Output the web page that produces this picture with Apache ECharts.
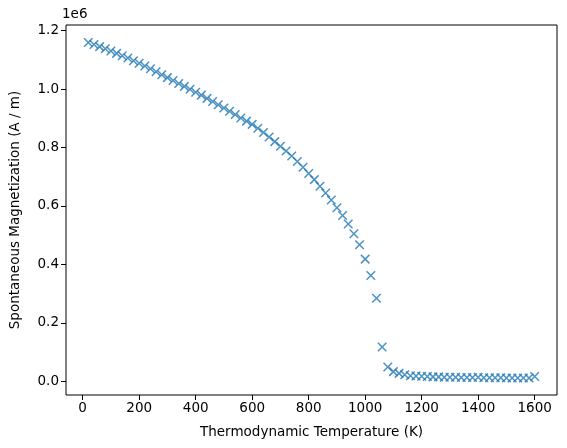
<!DOCTYPE html>
<html>
<head>
<meta charset="utf-8">
<script src="https://cdn.jsdelivr.net/npm/echarts@6/dist/echarts.min.js"></script>
<style>
  html, body { margin: 0; padding: 0; background: #fff; }
  #chart { width: 567px; height: 448px; }
</style>
</head>
<body>
<div id="chart"></div>
<script>
// temperature (K) and spontaneous magnetization (A/m)
var temperature = [
  20, 40, 60, 80, 100, 120, 140, 160, 180, 200,
  220, 240, 260, 280, 300, 320, 340, 360, 380, 400,
  420, 440, 460, 480, 500, 520, 540, 560, 580, 600,
  620, 640, 660, 680, 700, 720, 740, 760, 780, 800,
  820, 840, 860, 880, 900, 920, 940, 960, 980, 1000,
  1020, 1040, 1060, 1080, 1100, 1120, 1140, 1160, 1180, 1200,
  1220, 1240, 1260, 1280, 1300, 1320, 1340, 1360, 1380, 1400,
  1420, 1440, 1460, 1480, 1500, 1520, 1540, 1560, 1580, 1600
];
var magnetization = [
  1159000, 1152000, 1145000, 1138000, 1130000, 1122000, 1114000, 1106000, 1097000, 1088000,
  1079000, 1069000, 1059000, 1049000, 1039000, 1029000, 1019000, 1009000, 999000, 989000,
  979000, 968000, 957000, 946000, 935000, 924000, 913000, 901000, 890000, 879000,
  866000, 851000, 836000, 820000, 804000, 788000, 771000, 752000, 732000, 711000,
  690000, 667000, 644000, 620000, 594000, 567000, 538000, 505000, 467000, 418000,
  362000, 284000, 117000, 49000, 33000, 27000, 22000, 19000, 18000, 17000,
  16000, 15000, 15000, 14000, 14000, 14000, 13000, 13000, 13000, 14000,
  12000, 12000, 12000, 12000, 11000, 11000, 11000, 11000, 11000, 16000
];
var xTicks = [0, 200, 400, 600, 800, 1000, 1200, 1400, 1600];
var yTicks = [0, 200000, 400000, 600000, 800000, 1000000, 1200000];

var points = temperature.map(function (t, i) { return [t, magnetization[i]]; });

var chart = echarts.init(document.getElementById('chart'));
var font = 'DejaVu Sans';
chart.setOption({
  animation: false,
  backgroundColor: '#fff',
  textStyle: { fontFamily: font },
  grid: { left: 61, top: 25, right: 10, bottom: 53, show: true, borderColor: '#000', borderWidth: 1, backgroundColor: 'transparent' },
  xAxis: {
    type: 'value', min: -59, max: 1679,
    name: 'Thermodynamic Temperature (K)', nameLocation: 'middle', nameGap: 30,
    nameTextStyle: { color: '#000', fontSize: 13.5, fontFamily: font },
    axisLine: { show: false, onZero: false },
    splitLine: { show: false },
    axisTick: { show: true, inside: false, length: 5, customValues: xTicks, lineStyle: { color: '#000', width: 1 } },
    axisLabel: {
      customValues: xTicks, color: '#000', fontSize: 13.5, fontFamily: font, margin: 6,
      formatter: function (v) { return String(v); }
    }
  },
  yAxis: {
    type: 'value', min: -47000, max: 1219000,
    name: 'Spontaneous Magnetization (A / m)', nameLocation: 'middle', nameGap: 44,
    nameTextStyle: { color: '#000', fontSize: 13.5, fontFamily: font },
    axisLine: { show: false, onZero: false },
    splitLine: { show: false },
    axisTick: { show: true, inside: false, length: 5, customValues: yTicks, lineStyle: { color: '#000', width: 1 } },
    axisLabel: {
      customValues: yTicks, color: '#000', fontSize: 13.5, fontFamily: font, margin: 7,
      formatter: function (v) { return (v / 1e6).toFixed(1); }
    }
  },
  graphic: [{
    type: 'text', left: 62, top: 7,
    style: { text: '1e6', fill: '#000', font: '13.5px "DejaVu Sans"' }
  }],
  series: [{
    type: 'scatter',
    data: points,
    symbol: 'path://M0,0L10,10M10,0L0,10',
    symbolSize: 8.5,
    itemStyle: { color: 'transparent', borderColor: '#1f77b4', borderWidth: 1.5 }
  }]
});
</script>
</body>
</html>
